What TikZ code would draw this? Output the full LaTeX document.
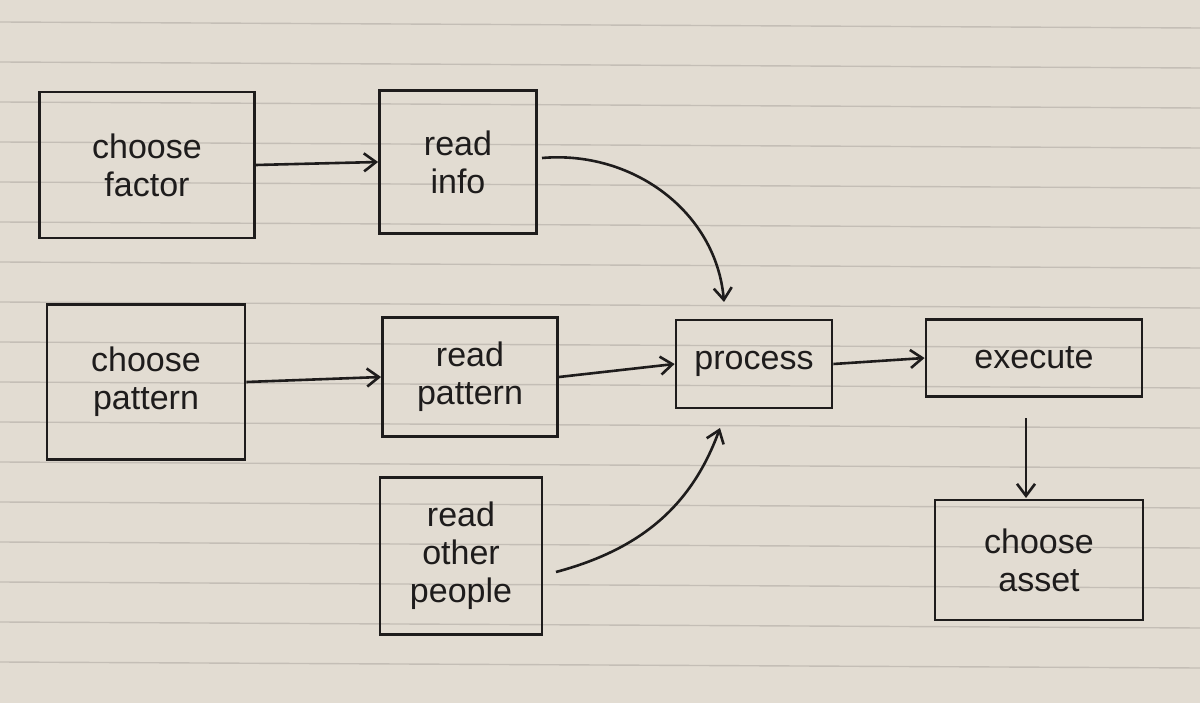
\documentclass[tikz,border=0pt]{standalone}
\usepackage{fontspec}
\usetikzlibrary{arrows.meta}
\setmainfont{Liberation Sans}
\definecolor{paper}{RGB}{226,220,210}
\definecolor{rule}{RGB}{196,190,182}
\definecolor{ink}{RGB}{30,28,28}
\begin{document}
\begin{tikzpicture}[x=1pt,y=-1pt,
  box/.style={draw=ink,line width=2.8pt,align=center,text=ink,font=\fontsize{34}{38}\selectfont,inner sep=0pt},
  arr/.style={draw=ink,line width=2.6pt,-{Straight Barb[length=12pt,width=18pt,line width=2.6pt]}}]
\fill[paper] (0,0) rectangle (1200,703);
\useasboundingbox (0,0) rectangle (1200,703);
\foreach \y in {22,62,102,142,182,222,262,302,342,382,422,462,502,542,582,622,662}
  \draw[rule,line width=1.4pt] (0,\y) -- (1200,\y+6);
\node[box,minimum width=215,minimum height=146] (cf) at (147,165) {choose\\factor};
\node[box,minimum width=157,minimum height=143] (ri) at (458,162) {read\\info};
\node[box,minimum width=198,minimum height=155] (cp) at (146,382) {choose\\pattern};
\node[box,minimum width=175,minimum height=119] (rp) at (470,377) {read\\pattern};
\node[box,minimum width=162,minimum height=157] (ro) at (461,556) {read\\other\\people};
\node[box,minimum width=156,minimum height=88] (pr) at (754,364) {process};
\node[box,minimum width=216,minimum height=77] (ex) at (1034,358) {execute};
\node[box,minimum width=208,minimum height=120] (ca) at (1039,560) {choose\\asset};
\coordinate (pt) at (724,302);
\coordinate (pb) at (720,428);
\coordinate (es) at (1026,418);
\coordinate (ct) at (1026,498);
\coordinate (rie) at (542,158);
\coordinate (roe) at (556,572);
\draw[arr] (cf.east) -- (ri.west);
\draw[arr] (rie) to[out=5,in=95] (pt);
\draw[arr] (cp.east) -- (rp.west);
\draw[arr] (rp.east) -- (pr.west);
\draw[arr] (pr.east) -- (ex.west);
\draw[arr] (es) -- (ct);
\draw[arr] (roe) to[out=15,in=-110] (pb);
\end{tikzpicture}
\end{document}
